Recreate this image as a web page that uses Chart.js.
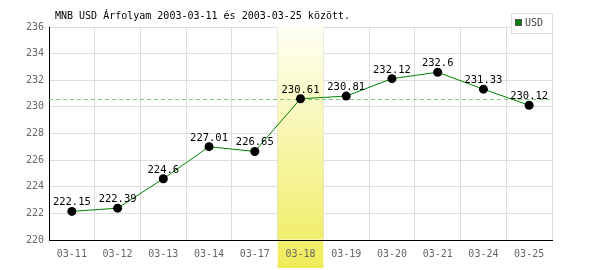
<!DOCTYPE html>
<html>
<head>
<meta charset="utf-8">
<script src="https://cdn.jsdelivr.net/npm/chart.js@4/dist/chart.umd.min.js"></script>
<style>
html,body{margin:0;padding:0;background:#fff;}
#wrap{width:600px;height:270px;}
</style>
</head>
<body>
<div id="wrap"><canvas id="c" width="600" height="270"></canvas></div>
<script>
const categories = ["03-11","03-12","03-13","03-14","03-17","03-18","03-19","03-20","03-21","03-24","03-25"];
const usdValues = [222.15,222.39,224.6,227.01,226.65,230.61,230.81,232.12,232.6,231.33,230.12];
const yTicks = [220,222,224,226,228,230,232,234,236];
const highlightIndex = 5;
const seriesName = "USD";
const titleText = "MNB USD Árfolyam 2003-03-11 és 2003-03-25 között.";

const FONT = "'DejaVu Sans Mono', monospace";

function bandGradient(ctx, top, bottom){
  const g = ctx.createLinearGradient(0, top, 0, bottom);
  g.addColorStop(0, '#fffff4');
  g.addColorStop(1, '#efec5a');
  return g;
}

const customPlugin = {
  id: 'custom',
  beforeDraw(chart){
    const ctx = chart.ctx, xs = chart.scales.x, a = chart.chartArea;
    const w = (a.right - a.left) / categories.length;
    const x0 = xs.getPixelForValue(highlightIndex) - w/2;
    ctx.save();
    ctx.fillStyle = bandGradient(ctx, a.top, 268);
    ctx.fillRect(x0, a.bottom, w, 268 - a.bottom);
    ctx.restore();
  },
  beforeDatasetsDraw(chart){
    const ctx = chart.ctx, xs = chart.scales.x, ys = chart.scales.y, a = chart.chartArea;
    const w = (a.right - a.left) / categories.length;
    const x0 = xs.getPixelForValue(highlightIndex) - w/2;
    ctx.save();
    ctx.fillStyle = bandGradient(ctx, a.top, 268);
    ctx.fillRect(x0, a.top, w, a.bottom - a.top - 0.5);
    const yv = Math.round(ys.getPixelForValue(usdValues[highlightIndex])) + 0.5;
    ctx.strokeStyle = '#7cc87c';
    ctx.lineWidth = 1;
    ctx.setLineDash([4,3]);
    ctx.beginPath();
    ctx.moveTo(a.left, yv);
    ctx.lineTo(a.right, yv);
    ctx.stroke();
    ctx.restore();
  },
  afterDatasetsDraw(chart){
    const ctx = chart.ctx, xs = chart.scales.x, ys = chart.scales.y;
    ctx.save();
    ctx.font = "10.5px " + FONT;
    ctx.fillStyle = '#000';
    ctx.textAlign = 'center';
    ctx.textBaseline = 'alphabetic';
    usdValues.forEach((v,i)=>{
      const x = xs.getPixelForValue(i), y = ys.getPixelForValue(v);
      ctx.fillText(String(v), x, y - 6);
    });
    ctx.restore();
  },
  afterDraw(chart){
    const ctx = chart.ctx;
    ctx.save();
    ctx.font = "10px " + FONT;
    ctx.fillStyle = '#000';
    ctx.textAlign = 'left';
    ctx.textBaseline = 'alphabetic';
    ctx.fillText(titleText, 55, 19);
    ctx.fillStyle = '#fff';
    ctx.fillRect(511, 13, 41, 20);
    ctx.strokeStyle = '#dddddd';
    ctx.lineWidth = 1;
    ctx.strokeRect(511.5, 13.5, 41, 20);
    ctx.fillStyle = '#008000';
    ctx.fillRect(515, 19, 7, 7);
    ctx.strokeStyle = '#555';
    ctx.strokeRect(515.5, 19.5, 6, 6);
    ctx.fillStyle = '#444';
    ctx.textBaseline = 'middle';
    ctx.fillText(seriesName, 525, 23.5);
    ctx.restore();
  }
};

new Chart(document.getElementById('c'), {
  type: 'line',
  data: {
    labels: categories,
    datasets: [{
      label: seriesName,
      data: usdValues,
      borderColor: '#008000',
      borderWidth: 1,
      pointRadius: 4.5,
      pointHoverRadius: 4.5,
      pointBackgroundColor: '#000',
      pointBorderColor: '#000',
      pointBorderWidth: 0,
      tension: 0,
      fill: false
    }]
  },
  options: {
    responsive: false,
    animation: false,
    devicePixelRatio: 1,
    layout: { padding: { top: 27, right: 48, left: 0, bottom: 0 } },
    plugins: { legend: { display: false }, title: { display: false }, tooltip: { enabled: false } },
    scales: {
      x: {
        type: 'category',
        offset: true,
        grid: { offset: true, color: '#dddddd', drawTicks: false },
        border: { color: '#000', width: 1 },
        ticks: { color: '#666', font: { family: FONT, size: 10 }, padding: 8, maxRotation: 0, autoSkip: false },
        afterFit(s){ s.height = 30; }
      },
      y: {
        min: 220, max: 236,
        afterBuildTicks(s){ s.ticks = yTicks.map(v=>({value:v})); },
        grid: { color: '#dddddd', drawTicks: false },
        border: { color: '#000', width: 1 },
        ticks: { color: '#666', font: { family: FONT, size: 10 }, padding: 5 },
        afterFit(s){ s.width = 49; }
      }
    }
  },
  plugins: [customPlugin]
});
</script>
</body>
</html>
